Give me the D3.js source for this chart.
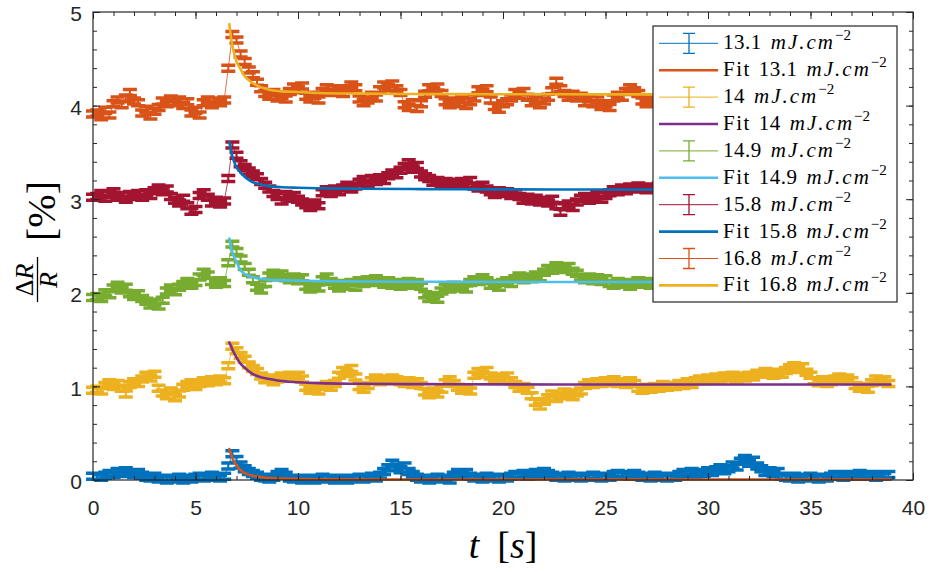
<!DOCTYPE html>
<html>
<head>
<meta charset="utf-8">
<script src="https://cdn.jsdelivr.net/npm/d3@7"></script>
</head>
<body style="margin:0">
<svg id="chart" width="933" height="572"></svg>
<script>
// Transient reflectivity dR/R (%) after the pump, one trace per fluence,
// each trace shifted by 1 % for readability. Sampling interval 0.2 s.
const sampleInterval = 0.2;
const energies   = ["13.1", "14", "14.9", "15.8", "16.8"];
const dataColors = ["#0072BD", "#EDB120", "#77AC30", "#A2142F", "#D95319"];
const fitColors  = ["#D95319", "#7E2F8E", "#4DBEEE", "#0072BD", "#EDB120"];
const errHalf    = [0.032, 0.032, 0.032, 0.032, 0.032];

const dr131 = [
  0.04,0.04,0.03,0.05,0.07,0.06,0.09,0.07,0.10,0.08,
  0.06,0.08,0.05,0.03,0.02,0.04,0.01,0.02,0.00,0.02,
  0.01,0.03,0.00,0.02,0.01,0.03,0.04,0.02,0.03,0.05,
  0.03,0.02,0.04,0.15,0.28,0.22,0.16,0.12,0.09,0.07,
  0.05,0.03,0.02,0.01,0.03,0.06,0.08,0.05,0.02,0.01,
  0.02,0.00,0.01,0.02,0.00,0.01,0.03,0.01,0.02,0.00,
  0.01,0.02,0.00,0.02,0.01,0.03,0.01,0.02,0.04,0.02,
  0.05,0.09,0.13,0.18,0.14,0.11,0.15,0.09,0.06,0.03,
  0.01,0.02,0.00,0.01,0.03,0.01,0.02,0.00,0.05,0.08,
  0.06,0.08,0.04,0.02,0.03,0.01,0.04,0.02,0.03,0.01,
  0.03,0.02,0.04,0.06,0.05,0.07,0.04,0.06,0.08,0.06,
  0.09,0.07,0.05,0.03,0.04,0.02,0.05,0.03,0.04,0.02,
  0.04,0.03,0.05,0.03,0.02,0.04,0.03,0.06,0.07,0.05,
  0.06,0.04,0.07,0.05,0.03,0.04,0.02,0.05,0.03,0.04,
  0.02,0.04,0.03,0.06,0.08,0.07,0.09,0.06,0.08,0.07,
  0.10,0.08,0.11,0.13,0.10,0.12,0.16,0.14,0.20,0.23,
  0.18,0.21,0.15,0.12,0.08,0.10,0.07,0.09,0.04,0.03,
  0.02,0.04,0.01,0.03,0.02,0.04,0.03,0.01,0.03,0.02,
  0.04,0.06,0.05,0.03,0.06,0.04,0.05,0.07,0.04,0.06,
  0.05,0.03,0.06,0.04,0.06
];

const dr14 = [
  0.96,0.97,0.95,1.01,1.04,1.00,1.03,0.98,0.92,1.02,
  1.05,1.03,1.08,1.12,1.09,1.13,0.98,0.93,0.90,0.95,
  0.88,0.92,0.99,1.02,1.04,1.00,1.03,1.06,1.04,1.07,
  1.05,1.08,1.06,1.22,1.43,1.38,1.33,1.29,1.23,1.19,
  1.16,1.11,1.07,1.09,1.05,1.08,1.11,1.09,1.12,1.10,
  1.12,1.08,0.99,0.96,0.98,0.95,1.00,1.02,0.99,1.03,
  1.12,1.17,1.14,1.19,1.10,1.00,0.97,1.01,1.06,1.09,
  1.05,1.08,1.06,1.09,1.07,1.05,1.03,1.06,1.02,1.05,
  1.01,0.94,0.91,0.95,0.92,0.97,1.04,1.07,1.03,0.99,
  0.96,0.98,0.95,1.12,1.16,1.13,1.17,1.11,1.08,1.10,
  1.07,1.11,1.06,1.02,0.98,1.00,0.96,0.90,0.83,0.79,
  0.84,0.88,0.92,0.87,0.90,0.94,0.91,0.89,0.93,0.95,
  1.01,1.04,1.02,1.05,1.03,1.06,1.04,1.07,1.03,1.05,
  1.02,1.06,1.03,0.98,0.96,0.99,0.97,1.00,0.98,1.02,
  0.99,1.01,1.00,1.03,1.01,1.05,1.02,1.06,1.08,1.06,
  1.09,1.07,1.10,1.08,1.11,1.09,1.12,1.08,1.11,1.09,
  1.12,1.10,1.14,1.13,1.16,1.14,1.12,1.15,1.13,1.17,
  1.20,1.22,1.18,1.21,1.15,1.12,1.06,1.04,1.07,1.03,
  1.05,1.08,1.10,1.07,1.09,1.06,1.01,0.98,1.00,0.97,
  1.04,1.08,1.05,1.07,1.03
];

const dr149 = [
  1.95,1.96,1.94,2.00,1.98,2.05,2.08,2.03,2.06,1.99,
  1.96,1.99,1.94,1.91,1.87,1.90,1.86,1.92,2.02,2.05,
  2.01,2.06,2.09,2.12,2.08,2.11,2.17,2.22,2.19,2.12,
  2.09,2.13,2.10,2.32,2.52,2.44,2.36,2.28,2.22,2.14,
  2.06,2.03,2.10,2.18,2.21,2.17,2.20,2.16,2.14,2.17,
  2.13,2.16,2.07,2.04,2.08,2.05,2.14,2.17,2.12,2.08,
  2.05,2.10,2.07,2.11,2.06,2.13,2.10,2.14,2.11,2.15,
  2.12,2.09,2.13,2.08,2.11,2.07,2.10,2.12,2.08,2.11,
  2.07,1.98,1.94,1.97,1.93,2.02,2.06,2.04,2.08,2.05,
  2.07,2.04,2.11,2.14,2.12,2.16,2.13,2.08,2.10,2.06,
  2.11,2.13,2.10,2.15,2.18,2.14,2.17,2.15,2.19,2.16,
  2.22,2.26,2.24,2.29,2.27,2.25,2.28,2.23,2.21,2.17,
  2.14,2.17,2.13,2.16,2.12,2.15,2.10,2.08,2.12,2.09,
  2.11,2.07,2.10,2.13,2.09,2.12,2.08,2.11,2.10,2.13
];

const dr158 = [
  3.02,3.03,3.06,3.01,3.05,3.08,3.02,3.04,3.00,3.05,
  3.03,3.06,3.02,3.07,3.04,3.09,3.12,3.08,3.11,3.03,
  2.99,2.96,3.01,2.93,2.87,2.89,3.04,3.07,3.02,2.96,
  2.99,2.95,2.98,3.22,3.58,3.47,3.38,3.34,3.30,3.27,
  3.24,3.19,3.15,3.11,3.06,3.03,2.98,3.05,3.01,3.04,
  3.00,2.97,2.94,2.91,2.96,2.93,3.07,3.10,3.06,3.11,
  3.08,3.12,3.15,3.11,3.14,3.18,3.21,3.17,3.22,3.19,
  3.23,3.20,3.25,3.28,3.26,3.31,3.35,3.39,3.32,3.36,
  3.27,3.24,3.22,3.18,3.20,3.16,3.19,3.15,3.18,3.17,
  3.19,3.16,3.20,3.14,3.12,3.15,3.11,3.08,3.05,3.09,
  3.06,3.08,3.04,3.07,3.03,2.99,3.02,2.98,3.01,2.97,
  2.99,2.96,3.00,2.93,2.86,2.92,2.95,2.91,2.97,3.01,
  3.03,2.99,3.02,3.05,3.00,3.04,3.07,3.10,3.08,3.12,
  3.09,3.13,3.11,3.14,3.12,3.10,3.13,3.11,3.14,3.12
];

const dr168 = [
  3.91,3.92,3.88,3.95,3.90,4.02,4.06,4.01,4.08,4.14,
  4.05,4.03,3.92,3.96,3.89,3.94,3.98,4.05,4.02,4.07,
  4.03,4.06,4.00,4.04,3.92,3.95,3.90,4.03,4.06,4.01,
  4.05,4.03,4.06,4.40,4.76,4.70,4.55,4.47,4.38,4.33,
  4.25,4.18,4.13,4.10,4.14,4.08,4.11,4.07,4.15,4.20,
  4.17,4.21,4.10,4.07,4.11,4.06,4.15,4.19,4.14,4.18,
  4.16,4.13,4.18,4.22,4.19,4.07,4.03,4.06,4.11,4.08,
  4.17,4.22,4.19,4.23,4.18,4.14,4.01,3.98,4.03,3.97,
  4.02,4.12,4.19,4.16,4.20,4.13,4.04,4.01,4.05,4.02,
  4.06,4.00,4.04,4.08,4.17,4.14,4.18,4.06,3.99,3.96,
  4.02,4.04,4.08,4.14,4.11,4.15,4.09,4.03,4.06,4.01,
  4.05,4.09,4.16,4.26,4.18,4.13,4.09,4.12,4.08,4.10,
  4.03,4.07,4.02,4.06,3.99,4.02,3.98,4.08,4.11,4.09,
  4.15,4.19,4.16,4.13,4.05,4.02,4.06,4.03,4.05,4.07
];

// Relaxation fits, sampled at fitTimes (s)
const fitTimes = [6.65,6.75,6.85,7.0,7.17,7.35,7.5,7.8,8.15,8.6,9.1,10,11,13,16,20,25,30,35,38.9];
const fit131 = [0.33,0.26,0.21,0.16,0.11,0.08,0.065,0.045,0.032,0.022,0.016,0.011,0.008,0.006,0.005,0.005,0.005,0.005,0.005,0.005];
const fit14  = [1.47,1.42,1.37,1.31,1.25,1.21,1.18,1.13,1.10,1.08,1.06,1.045,1.035,1.028,1.024,1.022,1.02,1.02,1.02,1.02];
const fit149 = [2.58,2.47,2.40,2.33,2.25,2.21,2.19,2.165,2.15,2.14,2.135,2.13,2.125,2.12,2.118,2.116,2.115,2.115,2.115,2.115];
const fit158 = [3.61,3.50,3.42,3.34,3.29,3.25,3.22,3.18,3.16,3.14,3.13,3.122,3.117,3.112,3.108,3.105,3.103,3.102,3.101,3.10];
const fit168 = [4.87,4.70,4.59,4.47,4.40,4.33,4.29,4.24,4.20,4.17,4.155,4.145,4.135,4.128,4.124,4.122,4.12,4.12,4.12,4.12];

const xTicks = [0, 5, 10, 15, 20, 25, 30, 35, 40];
const yTicks = [0, 1, 2, 3, 4, 5];
const xMinorStep = 1;
const yMinorStep = 0.2;

const traces = [dr131, dr14, dr149, dr158, dr168];
const fits   = [fit131, fit14, fit149, fit158, fit168];

// ---------------------------------------------------------------------------
const svg = d3.select("#chart");
const axisColor = "#262626";
const SANS = '"Liberation Sans"';
const SERIF = '"Liberation Serif"';

const x = d3.scaleLinear().domain([0, 40]).range([93, 913]);
const y = d3.scaleLinear().domain([0, 5]).range([480, 12]);

const capHalf = 7;

function stemPath(vals, e) {
  return vals.map((v, i) => {
    const px = x(i * sampleInterval);
    return `M${px},${y(v - e)}V${y(v + e)}`;
  }).join("");
}
function capPath(vals, e) {
  return vals.map((v, i) => {
    const px = x(i * sampleInterval), lo = y(v - e), hi = y(v + e);
    return `M${px - capHalf},${lo}H${px + capHalf}M${px - capHalf},${hi}H${px + capHalf}`;
  }).join("");
}

const dataLine = d3.line()
  .x((d, i) => x(i * sampleInterval))
  .y(d => y(d));

const fitLine = d3.line()
  .x((d, i) => x(fitTimes[i]))
  .y(d => y(d))
  .curve(d3.curveMonotoneX);

const plot = svg.append("g");
traces.forEach((vals, k) => {
  plot.append("path")
    .attr("d", dataLine(vals))
    .attr("fill", "none")
    .attr("stroke", dataColors[k])
    .attr("stroke-width", 0.8);
  plot.append("path")
    .attr("d", stemPath(vals, errHalf[k]))
    .attr("fill", "none")
    .attr("stroke", dataColors[k])
    .attr("stroke-width", 2);
  plot.append("path")
    .attr("d", capPath(vals, errHalf[k]))
    .attr("fill", "none")
    .attr("stroke", dataColors[k])
    .attr("stroke-width", 3.5);
  plot.append("path")
    .attr("d", fitLine(fits[k]))
    .attr("fill", "none")
    .attr("stroke", fitColors[k])
    .attr("stroke-width", 2.6)
    .attr("stroke-linecap", "round");
});

// ---- axes (inward ticks on all four sides) --------------------------------
const xMinor = d3.range(0, 40 + 1e-9, xMinorStep);
const yMinor = d3.range(0, 5 + 1e-9, yMinorStep);

function styleAxis(g) {
  g.attr("font-family", SANS).attr("font-size", 21);
  g.select(".domain").remove();
  g.selectAll(".tick line").attr("stroke", axisColor).attr("stroke-width", 1);
  g.selectAll(".tick text").attr("fill", axisColor).attr("font-family", SANS);
}

const intFmt = d3.format("d");

svg.append("g").attr("transform", "translate(0,480)")
  .call(d3.axisBottom(x).tickValues(xTicks).tickFormat(intFmt).tickSize(-7).tickPadding(20).tickSizeOuter(0))
  .call(styleAxis);
svg.append("g").attr("transform", "translate(0,480)")
  .call(d3.axisBottom(x).tickValues(xMinor).tickSize(-4).tickFormat("").tickSizeOuter(0))
  .call(styleAxis);
svg.append("g").attr("transform", "translate(0,12)")
  .call(d3.axisTop(x).tickValues(xTicks).tickSize(-7).tickFormat("").tickSizeOuter(0))
  .call(styleAxis);
svg.append("g").attr("transform", "translate(0,12)")
  .call(d3.axisTop(x).tickValues(xMinor).tickSize(-4).tickFormat("").tickSizeOuter(0))
  .call(styleAxis);

svg.append("g").attr("transform", "translate(93,0)")
  .call(d3.axisLeft(y).tickValues(yTicks).tickFormat(intFmt).tickSize(-7).tickPadding(11).tickSizeOuter(0))
  .call(styleAxis)
  .call(g => g.selectAll(".tick text").attr("dy", "0.42em"));
svg.append("g").attr("transform", "translate(93,0)")
  .call(d3.axisLeft(y).tickValues(yMinor).tickSize(-4).tickFormat("").tickSizeOuter(0))
  .call(styleAxis);
svg.append("g").attr("transform", "translate(913,0)")
  .call(d3.axisRight(y).tickValues(yTicks).tickSize(-7).tickFormat("").tickSizeOuter(0))
  .call(styleAxis);
svg.append("g").attr("transform", "translate(913,0)")
  .call(d3.axisRight(y).tickValues(yMinor).tickSize(-4).tickFormat("").tickSizeOuter(0))
  .call(styleAxis);

svg.append("rect")
  .attr("x", x(0)).attr("y", y(5))
  .attr("width", x(40) - x(0)).attr("height", y(0) - y(5))
  .attr("fill", "none").attr("stroke", axisColor).attr("stroke-width", 1.2);

// ---- axis titles ----------------------------------------------------------
const xt = svg.append("text")
  .attr("font-family", SERIF)
  .attr("x", 503).attr("y", 558)
  .attr("text-anchor", "middle")
  .attr("fill", "#000")
  .attr("font-size", 38);
xt.append("tspan").attr("font-style", "italic").text("t");
xt.append("tspan").attr("dx", 18).text("[");
xt.append("tspan").attr("font-style", "italic").text("s");
xt.append("tspan").text("]");

// y title: fraction  ΔR / R  followed by [%], read bottom-to-top
const yl = svg.append("g").attr("fill", "#000");
const num = yl.append("text")
  .attr("font-family", SERIF)
  .attr("transform", "translate(33,280) rotate(-90)")
  .attr("text-anchor", "middle")
  .attr("font-size", 26);
num.append("tspan").text("Δ");
num.append("tspan").attr("font-style", "italic").text("R");
yl.append("line")
  .attr("x1", 37.5).attr("x2", 37.5).attr("y1", 257).attr("y2", 302)
  .attr("stroke", "#000").attr("stroke-width", 1.3);
yl.append("text")
  .attr("font-family", SERIF)
  .attr("transform", "translate(57,280) rotate(-90)")
  .attr("text-anchor", "middle")
  .attr("font-style", "italic")
  .attr("font-size", 26)
  .text("R");
yl.append("text")
  .attr("font-family", SERIF)
  .attr("transform", "translate(55,211) rotate(-90)")
  .attr("text-anchor", "middle")
  .attr("font-size", 40)
  .text("[%]");

// ---- legend ---------------------------------------------------------------
const legendEntries = [];
energies.forEach((en, k) => {
  legendEntries.push({ energy: en, fit: false, color: dataColors[k] });
  legendEntries.push({ energy: en, fit: true, color: fitColors[k] });
});

const legend = svg.append("g");
legend.append("rect")
  .attr("x", 653).attr("y", 26).attr("width", 244).attr("height", 276)
  .attr("fill", "#fff").attr("stroke", axisColor).attr("stroke-width", 1.2);

legendEntries.forEach((d, i) => {
  const yc = 43.3 + i * 26.9;
  legend.append("line")
    .attr("x1", 659).attr("x2", 718).attr("y1", yc).attr("y2", yc)
    .attr("stroke", d.color).attr("stroke-width", d.fit ? 2.6 : 1);
  if (!d.fit) {
    legend.append("path")
      .attr("d", `M689,${yc - 10}V${yc + 10}M683,${yc - 10}H695M683,${yc + 10}H695`)
      .attr("fill", "none").attr("stroke", d.color).attr("stroke-width", 1.3);
  }
  const t = legend.append("text")
    .attr("font-family", SERIF)
    .attr("x", 723).attr("y", yc + 6)
    .attr("fill", "#000")
    .attr("font-size", 21);
  if (d.fit) {
    t.append("tspan").attr("letter-spacing", "1.5px").text("Fit");
    t.append("tspan").attr("dx", 8).attr("letter-spacing", "0.5px").text(d.energy);
  } else {
    t.append("tspan").attr("letter-spacing", "0.5px").text(d.energy);
  }
  t.append("tspan").attr("dx", 9).attr("font-style", "italic").attr("letter-spacing", "2px").text("mJ.cm");
  t.append("tspan").attr("dy", -9).attr("dx", 0).attr("font-size", 15).text("−2");
});
</script>
</body>
</html>
